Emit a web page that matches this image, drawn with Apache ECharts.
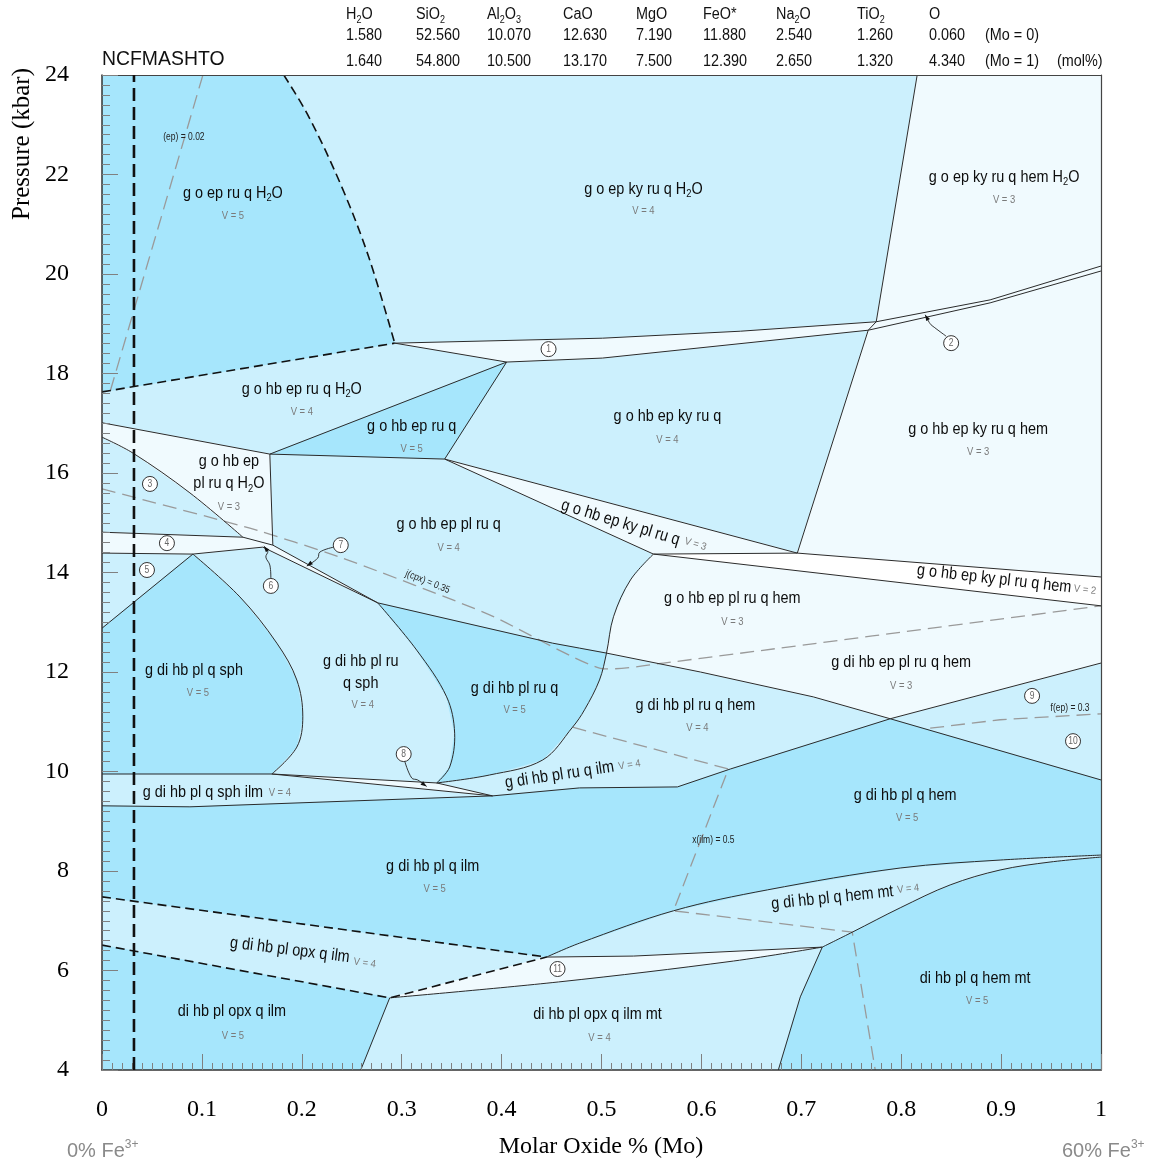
<!DOCTYPE html>
<html>
<head>
<meta charset="utf-8">
<script src="https://cdn.jsdelivr.net/npm/echarts@6.0.0/dist/echarts.min.js"></script>
<style>
  html, body { margin: 0; padding: 0; background: #ffffff; }
  #chart { width: 1149px; height: 1165px; }
</style>
</head>
<body>
<div id="chart"></div>
<script>
// NCFMASHTO pseudosection, P (kbar) against Molar Oxide fraction Mo.
// All vertices are [Mo, P].

// Fields with variance 5
const fieldsV5 = [
  [[0,24],[0.182,24],[0.207,23.16],[0.240,21.75],[0.267,20.34],[0.293,18.61],[0,17.63]],
  [[0.168,16.38],[0.405,18.23],[0.343,16.28]],
  [[0,12.88],[0.091,14.37],[0.138,13.51],[0.175,12.58],[0.195,11.84],[0.201,11.10],[0.195,10.49],[0.170,9.95],[0,9.95]],
  [[0.276,13.39],[0.451,12.58],[0.478,12.48],[0.505,12.38],[0.498,11.84],[0.483,11.24],[0.471,10.89],[0.441,10.23],[0.388,9.93],[0.335,9.77],[0.348,10.09],[0.353,10.77],[0.345,11.50],[0.315,12.44]],
  [[0,9.31],[0.088,9.29],[0.391,9.51],[0.478,9.67],[0.576,9.69],[0.629,10.05],[0.789,11.06],[1,9.83],[1,8.32],[0.899,8.22],[0.799,8.06],[0.666,7.62],[0.572,7.20],[0.478,6.55],[0.445,6.27],[0,7.48]],
  [[0,6.51],[0.288,5.45],[0.259,4],[0,4]],
  [[0.721,6.47],[0.751,6.77],[0.799,7.26],[0.849,7.72],[0.899,8.02],[0.949,8.18],[1,8.28],[1,4],[0.677,4],[0.699,5.47]]
];

// Fields with variance 3 (and the small numbered fields)
const fieldsV3 = [
  [[0.816,24],[1,24],[1,20.16],[0.889,19.48],[0.775,19.04]],
  [[0.775,19.04],[0.889,19.48],[1,20.16],[1,20.06],[0.889,19.42],[0.767,18.87]],
  [[0.767,18.87],[0.889,19.42],[1,20.06],[1,13.91],[0.696,14.39]],
  [[0.293,18.61],[0.501,18.71],[0.639,18.85],[0.775,19.04],[0.767,18.87],[0.501,18.31],[0.405,18.23]],
  [[0.343,16.28],[0.696,14.39],[0.552,14.37]],
  [[0.552,14.37],[1,13.33],[1,12.18],[0.789,11.06],[0.712,11.50],[0.599,12.00],[0.505,12.38],[0.512,13.11],[0.529,13.85]],
  [[0,17.01],[0.168,16.38],[0.171,14.55],[0.141,14.71],[0.088,15.60],[0.031,16.40],[0,16.72]],
  [[0,14.81],[0.141,14.71],[0.171,14.55],[0.276,13.39],[0.161,14.51],[0.091,14.37],[0,14.39]],
  [[0.170,9.95],[0.335,9.77],[0.391,9.51]],
  [[0.288,5.45],[0.445,6.27],[0.532,6.29],[0.721,6.47],[0.632,6.19],[0.457,5.77]]
];

// Field with variance 2
const fieldsV2 = [
  [[0.552,14.37],[0.696,14.39],[1,13.91],[1,13.33]]
];

// Straight solid field boundaries
const solidLines = [
  [[0.293,18.61],[0.501,18.71],[0.639,18.85],[0.775,19.04]],
  [[0.293,18.61],[0.405,18.23],[0.501,18.31],[0.767,18.87]],
  [[0.816,24],[0.775,19.04],[0.767,18.87],[0.696,14.39]],
  [[0.775,19.04],[0.889,19.48],[1,20.16]],
  [[0.767,18.87],[0.889,19.42],[1,20.06]],
  [[0.552,14.37],[0.696,14.39],[1,13.91]],
  [[0.552,14.37],[1,13.33]],
  [[0.343,16.28],[0.696,14.39]],
  [[0.343,16.28],[0.552,14.37]],
  [[0.343,16.28],[0.405,18.23]],
  [[0.168,16.38],[0.405,18.23]],
  [[0.168,16.38],[0.343,16.28]],
  [[0,17.01],[0.168,16.38]],
  [[0.168,16.38],[0.171,14.55]],
  [[0,14.81],[0.141,14.71],[0.171,14.55],[0.276,13.39]],
  [[0,14.39],[0.091,14.37],[0.161,14.51],[0.276,13.39]],
  [[0,12.88],[0.091,14.37]],
  [[0,9.95],[0.170,9.95],[0.335,9.77]],
  [[0.170,9.95],[0.391,9.51]],
  [[0.335,9.77],[0.391,9.51]],
  [[0.276,13.39],[0.451,12.58],[0.478,12.48],[0.505,12.38],[0.599,12.00],[0.712,11.50],[0.789,11.06],[1,9.83]],
  [[0,9.31],[0.088,9.29],[0.391,9.51],[0.478,9.67],[0.576,9.69],[0.629,10.05],[0.789,11.06],[1,12.18]],
  [[0.445,6.27],[0.532,6.29],[0.721,6.47]],
  [[0.721,6.47],[0.699,5.47],[0.677,4]],
  [[0.288,5.45],[0.259,4]]
];

// Curved solid field boundaries
const solidCurves = [
  [[0,16.72],[0.031,16.40],[0.088,15.60],[0.141,14.71]],
  [[0.091,14.37],[0.138,13.51],[0.175,12.58],[0.195,11.84],[0.201,11.10],[0.195,10.49],[0.170,9.95]],
  [[0.276,13.39],[0.315,12.44],[0.345,11.50],[0.353,10.77],[0.348,10.09],[0.335,9.77]],
  [[0.552,14.37],[0.529,13.85],[0.512,13.11],[0.505,12.38],[0.498,11.84],[0.483,11.24],[0.471,10.89],[0.441,10.23],[0.388,9.93],[0.335,9.77]],
  [[0.445,6.27],[0.478,6.55],[0.572,7.20],[0.666,7.62],[0.799,8.06],[0.899,8.22],[1,8.32]],
  [[0.721,6.47],[0.751,6.77],[0.799,7.26],[0.849,7.72],[0.899,8.02],[0.949,8.18],[1,8.28]],
  [[0.288,5.45],[0.457,5.77],[0.632,6.19],[0.721,6.47]]
];

// Dashed (fluid-related) boundaries
const dashedLines = [
  [[0,17.63],[0.293,18.61]],
  [[0,7.48],[0.445,6.27]],
  [[0,6.51],[0.288,5.45],[0.445,6.27]]
];
const dashedCurves = [
  [[0.182,24],[0.207,23.16],[0.240,21.75],[0.267,20.34],[0.293,18.61]]
];

// Bulk composition reference line (Mo)
const refMo = 0.032;

// Compositional isopleths
const isopleths = [
  [[0.101,24],[0.008,17.63]],
  [[0.471,10.89],[0.627,10.05],[0.572,7.20],[0.751,6.77],[0.774,4]],
  [[0.829,10.87],[0.899,11.04],[1,11.16]]
];
const isoCurves = [
  [[0,15.68],[0.148,14.89],[0.238,14.31],[0.388,13.15],[0.498,12.08],[0.562,12.18],[1,13.33]]
];
const isoLabels = [
  ['(ep) = 0.02', 0.082, 22.75, 0],
  ['j(cpx) = 0.35', 0.326, 13.81, -22],
  ['x(ilm) = 0.5', 0.612, 8.62, 0],
  ['f(ep) = 0.3', 0.969, 11.28, 0]
];

// Numbered small fields
const invariantMarks = [
  ['1',0.447,18.49],['2',0.850,18.61],['3',0.048,15.78],['4',0.065,14.59],['5',0.045,14.05],
  ['6',0.169,13.73],['7',0.239,14.55],['8',0.302,10.35],['9',0.931,11.52],['10',0.972,10.61],['11',0.456,6.03]
];
const leaders = [
  [[0.845,18.75],[0.833,18.93],[0.829,19.00],[0.824,19.18]],
  [[0.169,13.87],[0.168,14.15],[0.164,14.31],[0.166,14.43],[0.162,14.53]],
  [[0.232,14.51],[0.218,14.41],[0.216,14.29],[0.205,14.13]],
  [[0.303,10.21],[0.310,9.87],[0.316,9.83],[0.325,9.70]]
];

// Field assemblage names: [text, Mo, P, angle]
const fieldLabels = [
  ['g o ep ru q H{s|2}O', 0.131, 21.63, 0],
  ['g o ep ky ru q H{s|2}O', 0.542, 21.71, 0],
  ['g o ep ky ru q hem H{s|2}O', 0.903, 21.95, 0],
  ['g o hb ep ru q H{s|2}O', 0.200, 17.69, 0],
  ['g o hb ep ru q', 0.310, 16.94, 0],
  ['g o hb ep ky ru q', 0.566, 17.13, 0],
  ['g o hb ep ky ru q hem', 0.877, 16.88, 0],
  ['g o hb ep\npl ru q H{s|2}O', 0.127, 16.01, 0],
  ['g o hb ep pl ru q', 0.347, 14.97, 0],
  ['g o hb ep ky pl ru q', 0.519, 15.00, -17],
  ['g o hb ep ky pl ru q hem', 0.893, 13.87, -6.5],
  ['g o hb ep pl ru q hem', 0.631, 13.49, 0],
  ['g di hb ep pl ru q hem', 0.800, 12.20, 0],
  ['g di hb pl ru q hem', 0.594, 11.34, 0],
  ['g di hb pl q hem', 0.804, 9.53, 0],
  ['g di hb pl q sph', 0.092, 12.04, 0],
  ['g di hb pl ru\nq sph', 0.259, 12.00, 0],
  ['g di hb pl ru q', 0.413, 11.68, 0],
  ['g di hb pl q sph ilm', 0.101, 9.59, 0],
  ['g di hb pl ru q ilm', 0.458, 9.93, 8.5],
  ['g di hb pl q ilm', 0.331, 8.10, 0],
  ['g di hb pl opx q ilm', 0.188, 6.41, -7],
  ['di hb pl opx q ilm', 0.130, 5.17, 0],
  ['g di hb pl q hem mt', 0.731, 7.46, 6],
  ['di hb pl opx q ilm mt', 0.496, 5.11, 0],
  ['di hb pl q hem mt', 0.874, 5.85, 0]
];
const varianceLabels = [
  ['V = 5', 0.131, 21.17, 0],
  ['V = 4', 0.542, 21.27, 0],
  ['V = 3', 0.903, 21.49, 0],
  ['V = 4', 0.200, 17.23, 0],
  ['V = 5', 0.310, 16.48, 0],
  ['V = 4', 0.566, 16.66, 0],
  ['V = 3', 0.877, 16.42, 0],
  ['V = 3', 0.127, 15.32, 0],
  ['V = 4', 0.347, 14.49, 0],
  ['V = 3', 0.594, 14.57, -17],
  ['V = 2', 0.984, 13.65, -6.5],
  ['V = 3', 0.631, 13.00, 0],
  ['V = 3', 0.800, 11.72, 0],
  ['V = 4', 0.596, 10.87, 0],
  ['V = 5', 0.806, 9.07, 0],
  ['V = 5', 0.096, 11.58, 0],
  ['V = 4', 0.261, 11.34, 0],
  ['V = 5', 0.413, 11.24, 0],
  ['V = 4', 0.178, 9.57, 0],
  ['V = 4', 0.528, 10.13, 8.5],
  ['V = 5', 0.333, 7.64, 0],
  ['V = 4', 0.263, 6.15, -7],
  ['V = 5', 0.131, 4.68, 0],
  ['V = 4', 0.807, 7.64, 6],
  ['V = 4', 0.498, 4.64, 0],
  ['V = 5', 0.876, 5.39, 0]
];

// Bulk compositions (mol%)
const oxides = ['H{s|2}O','SiO{s|2}','Al{s|2}O{s|3}','CaO','MgO','FeO*','Na{s|2}O','TiO{s|2}','O'];
const molMo0 = ['1.580','52.560','10.070','12.630','7.190','11.880','2.540','1.260','0.060'];
const molMo1 = ['1.640','54.800','10.500','13.170','7.500','12.390','2.650','1.320','4.340'];

const xTickLabels = ['0','0.1','0.2','0.3','0.4','0.5','0.6','0.7','0.8','0.9','1'];

// ---- drawing ----
const SANS = "'Liberation Sans', Arial, sans-serif";
const SERIF = "'Liberation Serif', 'Times New Roman', serif";
const COL = { v5: '#a6e6fc', v4: '#ccf0fd', v3: '#f0fafe', v2: '#ffffff' };

function subRich(size, color) {
  return {
    s: { fontSize: Math.round(size * 0.62), fontFamily: SANS, fill: color, padding: [Math.round(size * 0.6), 0, 0, 0] },
    sup: { fontSize: Math.round(size * 0.62), fontFamily: SANS, fill: color, padding: [0, 0, Math.round(size * 0.6), 0] }
  };
}

function polygonSeries(polys, fill) {
  return {
    type: 'custom', coordinateSystem: 'cartesian2d', silent: true, clip: true, z: 2,
    data: polys.map(p => p[0]),
    renderItem: (params, api) => ({
      type: 'polygon',
      shape: { points: polys[params.dataIndex].map(p => api.coord(p)) },
      style: { fill: fill, stroke: fill, lineWidth: 0.6 }
    })
  };
}

function lineSeries(lines, style, z, smooth) {
  return {
    type: 'custom', coordinateSystem: 'cartesian2d', silent: true, clip: true, z: z,
    data: lines.map(l => l[0]),
    renderItem: (params, api) => ({
      type: 'polyline',
      shape: { points: lines[params.dataIndex].map(p => api.coord(p)), smooth: smooth || 0 },
      style: Object.assign({ fill: 'none' }, style)
    })
  };
}

function textSeries(items, o) {
  return {
    type: 'custom', coordinateSystem: 'cartesian2d', silent: true, z: 20,
    data: items.map(d => [d[1], d[2]]),
    renderItem: (params, api) => {
      const d = items[params.dataIndex];
      const p = api.coord([d[1], d[2]]);
      return {
        type: 'text', x: p[0], y: p[1], rotation: d[3] * Math.PI / 180, scaleX: o.scaleX,
        style: {
          text: d[0], fill: o.color, fontSize: o.size, fontFamily: SANS,
          align: 'center', verticalAlign: 'middle', textAlign: 'center', textVerticalAlign: 'middle',
          lineHeight: o.lineHeight, rich: subRich(o.size, o.color)
        }
      };
    }
  };
}

const markSeries = {
  type: 'custom', coordinateSystem: 'cartesian2d', silent: true, z: 18,
  data: invariantMarks.map(m => [m[1], m[2]]),
  renderItem: (params, api) => {
    const m = invariantMarks[params.dataIndex];
    const p = api.coord([m[1], m[2]]);
    return {
      type: 'group',
      children: [
        { type: 'circle', shape: { cx: p[0], cy: p[1], r: 7.5 }, style: { fill: '#ffffff', stroke: '#333', lineWidth: 1 } },
        { type: 'text', x: p[0], y: p[1] + 0.5, scaleX: 0.85,
          style: { text: m[0], fontSize: 10, fontFamily: SANS, fill: '#666',
            align: 'center', verticalAlign: 'middle', textAlign: 'center', textVerticalAlign: 'middle' } }
      ]
    };
  }
};

const leaderSeries = {
  type: 'custom', coordinateSystem: 'cartesian2d', silent: true, z: 17,
  data: leaders.map(l => l[0]),
  renderItem: (params, api) => {
    const pts = leaders[params.dataIndex].map(p => api.coord(p));
    const a = pts[pts.length - 2], b = pts[pts.length - 1];
    const ang = Math.atan2(b[1] - a[1], b[0] - a[0]);
    const L = 6, W = 2.2, c = Math.cos(ang), s = Math.sin(ang);
    const head = [b, [b[0] - L * c + W * s, b[1] - L * s - W * c], [b[0] - L * c - W * s, b[1] - L * s + W * c]];
    return {
      type: 'group',
      children: [
        { type: 'polyline', shape: { points: pts, smooth: 0.4 }, style: { fill: 'none', stroke: '#222', lineWidth: 0.9 } },
        { type: 'polygon', shape: { points: head }, style: { fill: '#111' } }
      ]
    };
  }
};

const refSeries = lineSeries([[[refMo, 4], [refMo, 24]]], { stroke: '#111', lineWidth: 2.6, lineDash: [13, 6] }, 12);

// header / annotation text placed in page space
function gText(text, x, y, size, opts) {
  opts = opts || {};
  return {
    type: 'text', x: x, y: y, scaleX: opts.scaleX || 1, rotation: opts.rotation || 0, z: 50,
    style: {
      text: text, fontSize: size, fontFamily: opts.font || SANS, fill: opts.color || '#111',
      align: opts.align || 'left', verticalAlign: 'middle', textAlign: opts.align || 'left', textVerticalAlign: 'middle',
      rich: subRich(size, opts.color || '#111')
    }
  };
}
const colX = [346, 416, 487, 563, 636, 703, 776, 857, 929];
const graphics = [];
oxides.forEach((t, i) => graphics.push(gText(t, colX[i], 15, 16, { scaleX: 0.9 })));
molMo0.forEach((t, i) => graphics.push(gText(t, colX[i], 36, 16, { scaleX: 0.9 })));
molMo1.forEach((t, i) => graphics.push(gText(t, colX[i], 62, 16, { scaleX: 0.9 })));
graphics.push(gText('(Mo = 0)', 985, 36, 16, { scaleX: 0.9 }));
graphics.push(gText('(Mo = 1)', 985, 62, 16, { scaleX: 0.9 }));
graphics.push(gText('(mol%)', 1057, 62, 16, { scaleX: 0.9 }));
graphics.push(gText('NCFMASHTO', 102, 59, 20, { scaleX: 0.97 }));
graphics.push(gText('0% Fe{sup|3+}', 67, 1151, 20, { color: '#8a8a8a' }));
graphics.push(gText('60% Fe{sup|3+}', 1062, 1151, 20, { color: '#8a8a8a' }));
graphics.push(gText('Molar Oxide % (Mo)', 601, 1147, 24, { font: SERIF, align: 'center', color: '#000' }));
graphics.push(gText('Pressure (kbar)', 22, 144, 25, { font: SERIF, align: 'center', color: '#000', rotation: Math.PI / 2 }));

const axisLineStyle = { color: '#333', width: 1.5 };
const tickStyle = { color: '#808080', width: 1 };

const option = {
  animation: false,
  backgroundColor: '#ffffff',
  grid: { left: 102, right: 48, top: 75, bottom: 95, show: true, backgroundColor: COL.v4, borderWidth: 0 },
  xAxis: [
    {
      type: 'value', min: 0, max: 1, interval: 0.1, position: 'bottom', z: 10,
      axisLine: { show: true, onZero: false, lineStyle: axisLineStyle },
      axisTick: { show: true, inside: true, length: 16, lineStyle: tickStyle },
      minorTick: { show: true, splitNumber: 10, length: 7, lineStyle: tickStyle },
      splitLine: { show: false },
      axisLabel: { margin: 28, fontFamily: SERIF, fontSize: 24, color: '#000',
        formatter: v => xTickLabels[Math.round(v * 10)] }
    },
    {
      type: 'value', min: 0, max: 1, position: 'top', z: 10,
      axisLine: { show: true, onZero: false, lineStyle: { color: '#444', width: 1.2 } },
      axisTick: { show: false }, axisLabel: { show: false }, splitLine: { show: false }
    }
  ],
  yAxis: [
    {
      type: 'value', min: 4, max: 24, interval: 2, position: 'left', z: 10,
      axisLine: { show: true, onZero: false, lineStyle: axisLineStyle },
      axisTick: { show: true, inside: true, length: 16, lineStyle: tickStyle },
      minorTick: { show: true, splitNumber: 10, length: 8, lineStyle: tickStyle },
      splitLine: { show: false },
      axisLabel: { margin: 33, fontFamily: SERIF, fontSize: 24, color: '#000' }
    },
    {
      type: 'value', min: 4, max: 24, position: 'right', z: 10,
      axisLine: { show: true, onZero: false, lineStyle: { color: '#444', width: 1.2 } },
      axisTick: { show: false }, axisLabel: { show: false }, splitLine: { show: false }
    }
  ],
  graphic: { elements: graphics },
  series: [
    polygonSeries(fieldsV5, COL.v5),
    polygonSeries(fieldsV3, COL.v3),
    polygonSeries(fieldsV2, COL.v2),
    lineSeries(isopleths, { stroke: '#9a9a9a', lineWidth: 1.3, lineDash: [14, 7] }, 5),
    lineSeries(isoCurves, { stroke: '#9a9a9a', lineWidth: 1.3, lineDash: [14, 7] }, 5, 0.2),
    lineSeries(solidLines, { stroke: '#2b2b2b', lineWidth: 1 }, 6),
    lineSeries(solidCurves, { stroke: '#2b2b2b', lineWidth: 1 }, 6, 0.35),
    lineSeries(dashedLines, { stroke: '#111', lineWidth: 1.6, lineDash: [9, 5] }, 7),
    lineSeries(dashedCurves, { stroke: '#111', lineWidth: 1.6, lineDash: [9, 5] }, 7, 0.35),
    refSeries,
    leaderSeries,
    markSeries,
    textSeries(fieldLabels, { size: 17, color: '#0d0d0d', scaleX: 0.85, lineHeight: 22 }),
    textSeries(varianceLabels, { size: 10.5, color: '#7a7a7a', scaleX: 0.9, lineHeight: 12 }),
    textSeries(isoLabels, { size: 10, color: '#222', scaleX: 0.85, lineHeight: 12 })
  ]
};

const chart = echarts.init(document.getElementById('chart'), null, { renderer: 'canvas' });
chart.setOption(option);
</script>
</body>
</html>
